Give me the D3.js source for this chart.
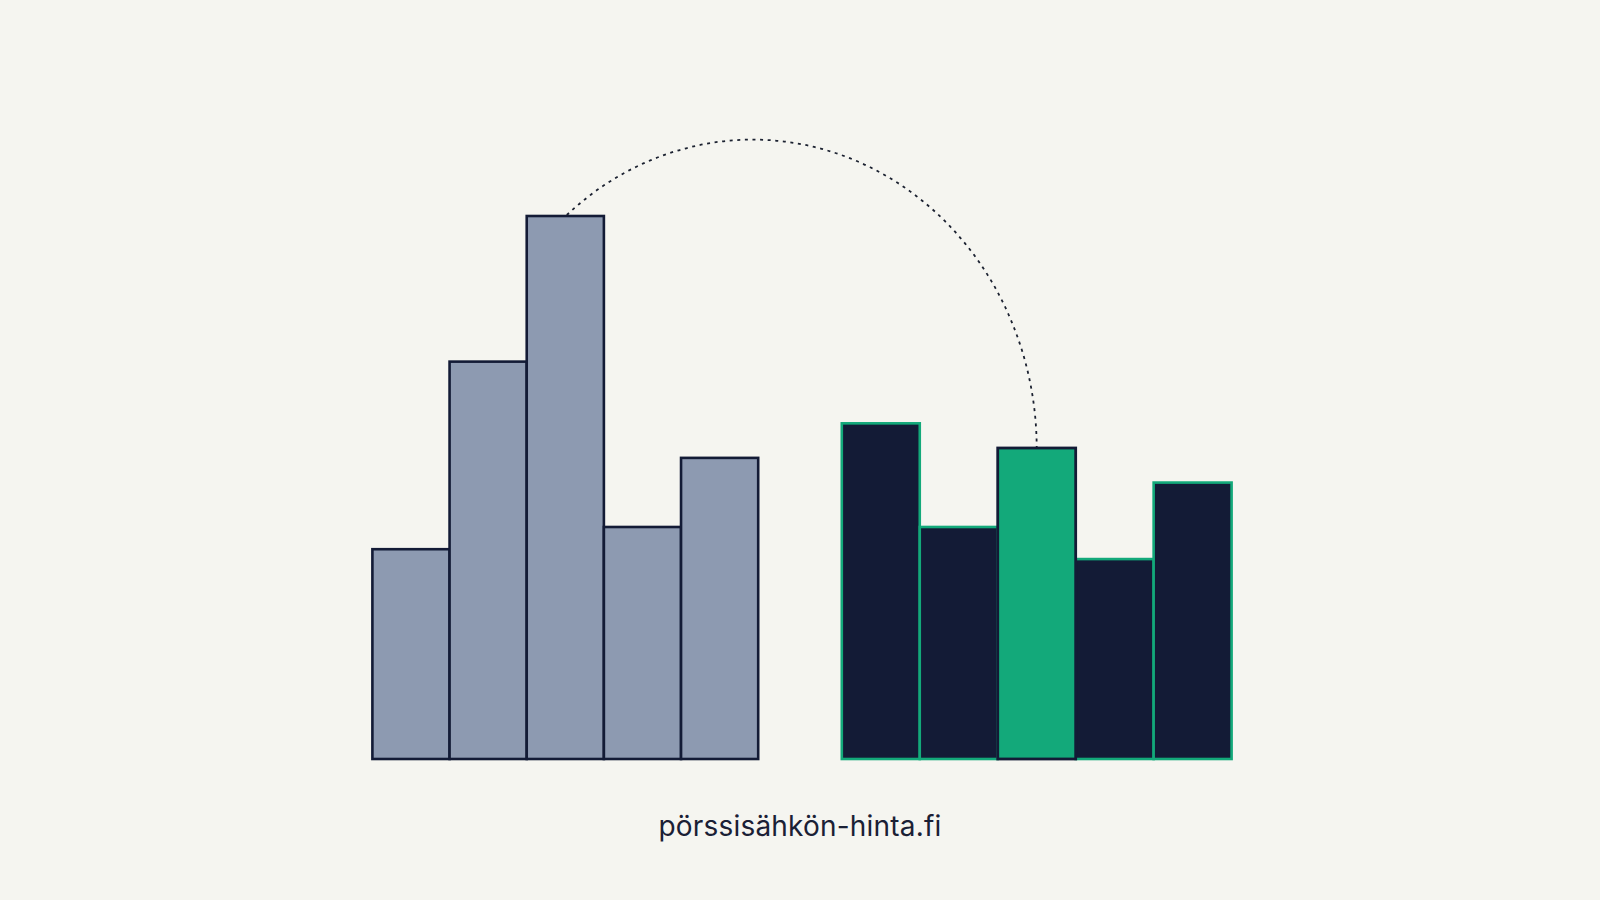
<!DOCTYPE html>
<html>
<head>
<meta charset="utf-8">
<script src="https://cdn.jsdelivr.net/npm/d3@7"></script>
<style>
  html, body { margin: 0; padding: 0; background: #f5f5f0; }
  svg { display: block; }
</style>
</head>
<body>
<svg id="chart" width="1600" height="900"></svg>
<script>
// ---- data ----
const categories = ["1", "2", "3", "4", "5"];
const beforeValues = [8.5, 16.1, 22.0, 9.4, 12.2];
const afterValues = [13.6, 9.4, 12.6, 8.1, 11.2];
const highlightIndex = 2;          // green bar in the right group
const sourceIndex = 2;             // tallest bar in the left group
const footerText = "pörssisähkön-hinta.fi";

// ---- styles ----
const bg = "#f5f5f0";
const navy = "#131b36";
const slate = "#8d9ab1";
const green = "#13a97a";

const svg = d3.select("#chart");
svg.append("rect").attr("width", 1600).attr("height", 900).attr("fill", bg);

const y = d3.scaleLinear().domain([0, 22]).range([759, 216]);
const xLeft = d3.scaleBand().domain(categories).range([372.4, 758.2]).padding(0);
const xRight = d3.scaleBand().domain(categories).range([841.8, 1231.6]).padding(0);

// left group
svg.append("g").selectAll("rect")
  .data(beforeValues)
  .join("rect")
  .attr("x", (d, i) => xLeft(categories[i]))
  .attr("y", d => y(d))
  .attr("width", xLeft.bandwidth())
  .attr("height", d => y(0) - y(d))
  .attr("fill", slate)
  .attr("stroke", navy)
  .attr("stroke-width", 2.6);

// right group
const rightData = afterValues.map((v, i) => ({ v, i }));
const order = rightData.filter(d => d.i !== highlightIndex).concat(rightData.filter(d => d.i === highlightIndex));
svg.append("g").selectAll("rect")
  .data(order)
  .join("rect")
  .attr("x", d => xRight(categories[d.i]))
  .attr("y", d => y(d.v))
  .attr("width", xRight.bandwidth())
  .attr("height", d => y(0) - y(d.v))
  .attr("fill", d => d.i === highlightIndex ? green : navy)
  .attr("stroke", d => d.i === highlightIndex ? navy : green)
  .attr("stroke-width", d => d.i === highlightIndex ? 2.8 : 2.6);

// dotted arc from the tallest "before" bar to the highlighted "after" bar
const sx = xLeft(categories[sourceIndex]) + xLeft.bandwidth() / 2 + 1.5;
const sy = y(beforeValues[sourceIndex]) - 1;
const ex = xRight(categories[highlightIndex]) + xRight.bandwidth() / 2;
const ey = y(afterValues[highlightIndex]) - 1;
svg.append("path")
  .attr("d", `M${sx},${sy} A284,309 0 0 1 ${ex},${ey}`)
  .attr("fill", "none")
  .attr("stroke", "#1b2130")
  .attr("stroke-width", 1.8)
  .attr("stroke-dasharray", "3 4.6");

// footer text
svg.append("text")
  .attr("x", 800)
  .attr("y", 836)
  .attr("text-anchor", "middle")
  .attr("font-family", "Inter, Lato, 'Noto Sans', sans-serif")
  .attr("font-size", 28)
  .attr("letter-spacing", 0.2)
  .attr("fill", "#1a2035")
  .text(footerText);
</script>
</body>
</html>
